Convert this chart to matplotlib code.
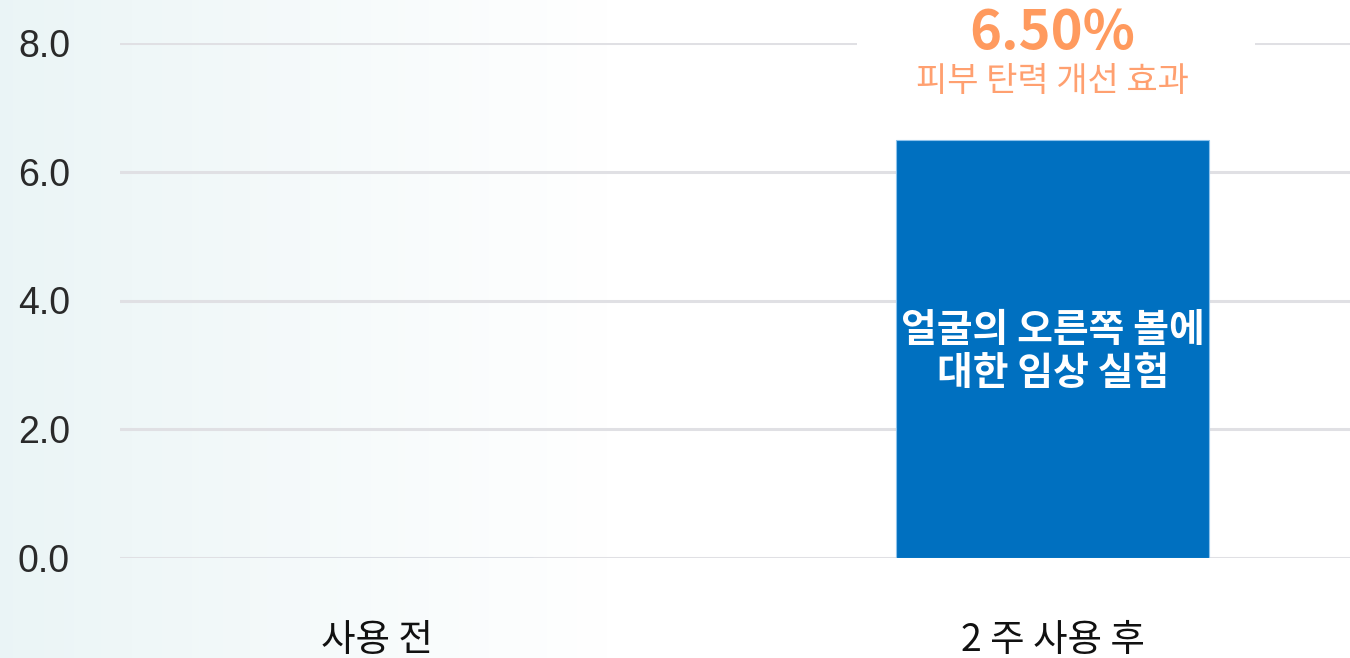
import numpy as np
import matplotlib
matplotlib.use('Agg')
import matplotlib.pyplot as plt
from matplotlib.patches import Rectangle

plt.rcParams['font.family'] = ['Noto Sans CJK KR', 'DejaVu Sans']

# 데이터
categories = ['사용 전', '2 주 사용 후']
values = [0.0, 6.5]
y_ticks = [0.0, 2.0, 4.0, 6.0, 8.0]
bar_text = '얼굴의 오른쪽 볼에\n대한 임상 실험'
result_value = '6.50%'
result_label = '피부 탄력 개선 효과'

fig = plt.figure(figsize=(13.5, 6.58), dpi=100)

# 왼쪽 배경 그라데이션
bg = fig.add_axes([0, 0, 1, 1], zorder=0)
grad = np.linspace(0, 1, 400)
grad = np.clip(grad / 0.45, 0, 1)
rgb = np.zeros((1, 400, 3))
start = np.array([0.92, 0.96, 0.965])
for i in range(3):
    rgb[0, :, i] = start[i] + (1 - start[i]) * grad
bg.imshow(rgb, aspect='auto', extent=[0, 1, 0, 1])
bg.axis('off')

ax = fig.add_axes([120 / 1350, 100 / 658, 1230 / 1350, 515 / 658], zorder=1)
ax.patch.set_alpha(0)

x = np.arange(len(categories))
ax.bar(x, values, width=0.463, color='#0070C0', edgecolor='#8EC3EC',
       linewidth=0.8, zorder=3)

ax.set_xlim(-0.38, 1.44)
ax.set_ylim(0, 8)
ax.set_yticks(y_ticks)
ax.set_yticklabels([f'{v:.1f}' for v in y_ticks], fontsize=27,
                   family=['Liberation Sans', 'DejaVu Sans'], color='#2a2a2a')
ax.tick_params(axis='y', length=0, pad=36)

ax.set_xticks(x)
ax.set_xticklabels(categories, fontsize=27, color='#111111')
ax.tick_params(axis='x', length=0, pad=45)

ax.grid(axis='y', color='#E0E0E4', linewidth=2.2, zorder=1)
for s in ax.spines.values():
    s.set_visible(False)

# 막대 안의 텍스트
ax.text(x[1], 3.2, bar_text, ha='center', va='center', color='white',
        fontsize=28, fontweight='bold', linespacing=1.12, zorder=4)

# 결과 표시 박스
ax.add_patch(Rectangle((x[1] - 0.29, 6.9), 0.59, 1.4, facecolor='white',
                       edgecolor='none', zorder=2, clip_on=False))
ax.text(x[1], 8.15, result_value, ha='center', va='center', color='#FF9A5E',
        fontsize=39, fontweight='bold', zorder=4)
ax.text(x[1], 7.4, result_label, ha='center', va='center', color='#FFA070',
        fontsize=24.5, zorder=4)

fig.savefig('out.png', dpi=100)
